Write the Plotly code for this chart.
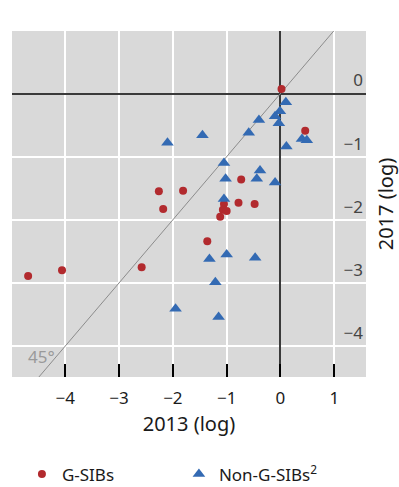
import plotly.graph_objects as go

# G-SIBs (red circles): log values 2013 vs 2017
gsib_2013 = [0.02, 0.46, -0.73, -2.26, -1.81, -2.18, -1.05, -0.78, -0.48, -1.07, -1.00, -1.12,
             -1.36, -2.58, -4.06, -4.69]
gsib_2017 = [0.07, -0.59, -1.36, -1.55, -1.54, -1.83, -1.75, -1.73, -1.75, -1.84, -1.86, -1.95,
             -2.34, -2.75, -2.80, -2.89]

# Non-G-SIBs (blue triangles)
non_2013 = [0.10, -0.01, -0.10, -0.03, -0.40, -0.59, 0.40, 0.49, 0.11, -1.45, -2.10,
            -1.05, -1.02, -0.38, -0.44, -0.10, -1.05, -1.00, -1.32, -0.47, -1.21, -1.95, -1.15]
non_2017 = [-0.14, -0.28, -0.36, -0.47, -0.42, -0.62, -0.72, -0.74, -0.84, -0.66, -0.78,
            -1.10, -1.35, -1.22, -1.35, -1.41, -1.67, -2.55, -2.62, -2.60, -2.99, -3.41, -3.54]

x_ticks = [-4, -3, -2, -1, 0, 1]
y_ticks = [-4, -3, -2, -1, 0]
diag = [-5, 1.6]  # 45-degree reference line (y = x)

RED = "#B22A2E"
BLUE = "#336AB3"
FONT = "Noto Sans"

fig = go.Figure()
fig.add_trace(go.Scatter(x=diag, y=diag, mode="lines", line=dict(color="#8C8C8C", width=1),
                         showlegend=False, hoverinfo="skip"))
fig.add_trace(go.Scatter(x=gsib_2013, y=gsib_2017, mode="markers", name="G-SIBs",
                         marker=dict(symbol="circle", size=8, color=RED)))
fig.add_trace(go.Scatter(x=non_2013, y=non_2017, mode="markers", name="Non-G-SIBs<sup>2</sup>",
                         marker=dict(symbol="triangle-up", size=11, color=BLUE)))

fig.add_annotation(x=-4.45, y=-4.17, text="45°", showarrow=False, xref="x", yref="y",
                   font=dict(family=FONT, size=17, color="#9A9A9A"))

fig.update_layout(
    width=399, height=487,
    margin=dict(l=12, r=32.6, t=31, b=110.3, autoexpand=False),
    paper_bgcolor="white", plot_bgcolor="#D9D9D9",
    font=dict(family=FONT, size=17, color="#1a1a1a"),
    showlegend=True,
    legend=dict(orientation="h", x=0.028, y=-0.282, xanchor="left", yanchor="middle",
                entrywidth=112, entrywidthmode="pixels", font=dict(size=17),
                bgcolor="rgba(0,0,0,0)"),
)
fig.update_xaxes(range=[-4.99, 1.59], tickvals=x_ticks, showgrid=True, gridcolor="white", gridwidth=1.5,
                 zeroline=True, zerolinecolor="#3a3a3a", zerolinewidth=1.5,
                 ticks="inside", ticklen=13, tickcolor="black", tickwidth=1.5,
                 showline=False, ticklabelstandoff=9,
                 title=dict(text="2013 (log)", standoff=8), automargin=False)
fig.update_yaxes(range=[-4.49, 0.99], tickvals=y_ticks, side="right", showgrid=True, gridcolor="white",
                 gridwidth=1.5, zeroline=True, zerolinecolor="#3a3a3a", zerolinewidth=1.5,
                 ticks="", ticklabelposition="inside", ticklabelshift=-13, showline=False,
                 title=dict(text="2017 (log)", standoff=19), automargin=False)

fig.write_html("out.html", config={"displayModeBar": False},
               post_script="document.body.style.margin='0';document.body.style.overflow='hidden';")
